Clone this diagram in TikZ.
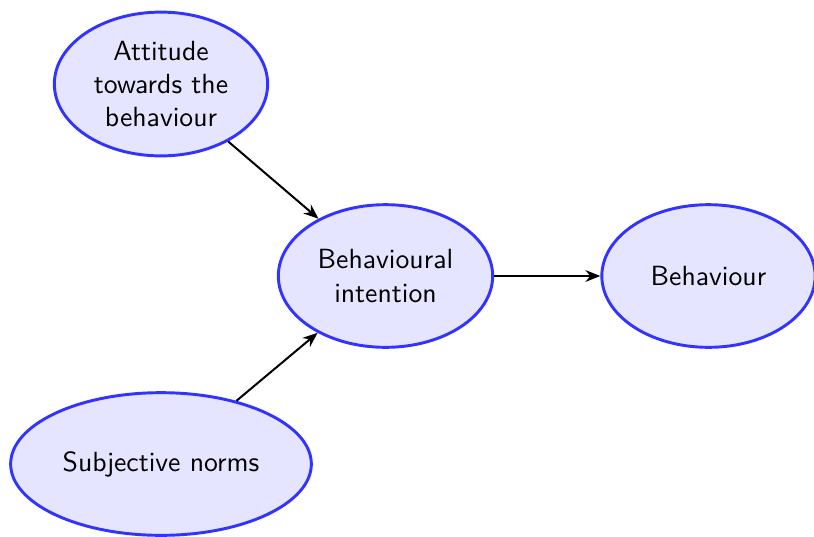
\documentclass[tikz,border=0pt]{standalone}
\usetikzlibrary{shapes.geometric,arrows.meta}
\begin{document}
\begin{tikzpicture}[x=0.375pt, y=-0.375pt,
  every node/.style={font=\sffamily\fontsize{10.4}{12.4}\selectfont},
  bubble/.style={ellipse, draw=blue!80, fill=blue!10, line width=1.1pt, align=center, minimum width=80pt, minimum height=53.5pt, inner sep=3pt},
  link/.style={-{Stealth[length=5.6pt,width=4.4pt,inset=1.8pt]}, line width=0.75pt, black}]
\useasboundingbox (0,0) rectangle (814,536);
\node[bubble] (att) at (161,84) {Attitude\\towards the\\behaviour};
\node[bubble] (bi) at (385.5,276) {Behavioural\\intention};
\node[bubble] (beh) at (708.5,276) {Behaviour};
\node[bubble] (sn) at (161,464) {Subjective norms};
\draw[link] (att) -- (bi);
\draw[link] (sn) -- (bi);
\draw[link] (bi) -- (beh);
\end{tikzpicture}
\end{document}
